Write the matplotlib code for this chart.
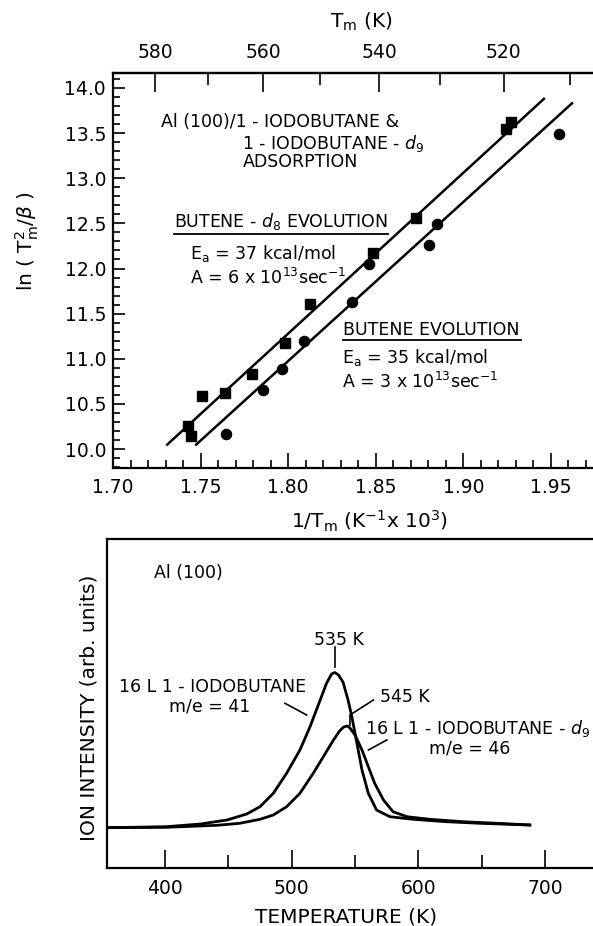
import numpy as np
import matplotlib
matplotlib.use('Agg')
import matplotlib.pyplot as plt
from matplotlib.ticker import MultipleLocator, FixedLocator, FormatStrFormatter

plt.rcParams['font.family'] = ['DejaVu Sans']
plt.rcParams['mathtext.fontset'] = 'dejavusans'
plt.rcParams['font.size'] = 12.5
plt.rcParams['xtick.labelsize'] = 13.5
plt.rcParams['ytick.labelsize'] = 13.5
LABEL_FS = 14.5

# --- Arrhenius plot data (1/Tm in K^-1 x 10^3, ln(Tm^2/beta)) ---
inv_T_d8 = [1.743, 1.7443, 1.751, 1.7638, 1.7794, 1.7983, 1.8125, 1.8485, 1.8727, 1.9243, 1.9271]
ln_d8 = [10.25, 10.14, 10.59, 10.62, 10.83, 11.18, 11.61, 12.17, 12.56, 13.55, 13.62]
inv_T_h = [1.7646, 1.7856, 1.7966, 1.809, 1.8367, 1.8462, 1.8803, 1.885, 1.9545]
ln_h = [10.17, 10.65, 10.89, 11.20, 11.63, 12.05, 12.26, 12.49, 13.49]

# fitted lines (end points)
fit_d8_x = [1.731, 1.946]
fit_d8_y = [10.05, 13.88]
fit_h_x = [1.7475, 1.962]
fit_h_y = [10.05, 13.83]

top_ticks_T = [580, 560, 540, 520]
top_minor_T = [570, 550, 530, 510]

# --- TPD spectra (temperature in K, intensity arb. units) ---
T_41 = [354, 401, 428, 449, 464.5, 475, 485.5, 496, 506.5, 514.5, 522.5, 527.5, 531.5, 534,
        537, 540.5, 544.5, 547.5, 551.5, 555.5, 560.5, 567, 577.5, 596, 622, 648.5, 688]
I_41 = [40.3, 41.3, 44, 48, 54, 61.3, 74.7, 94.7, 118, 141.3, 168, 184.7, 194, 195.5,
        193, 186, 168, 151.3, 124.7, 98, 74.7, 58, 51.3, 48.7, 46.3, 44.7, 43]
T_46 = [354, 401, 441, 459, 475, 485.5, 496, 506.5, 517, 525, 533, 538, 541, 544, 546,
        550, 555.5, 560.5, 565.5, 572.5, 580, 591, 609, 635, 662, 688]
I_46 = [40.3, 40.7, 42.7, 44.7, 48.7, 53, 61.3, 74.7, 94.7, 111.3, 128, 137.3, 141, 142, 140,
        133, 118, 101.3, 84.7, 68, 56.3, 51.3, 48.7, 46.3, 44.7, 43]

W, H = 593, 926
fig = plt.figure(figsize=(W / 100, H / 100), dpi=100)


def box(l, t, r, b):
    return [l / W, 1 - b / H, (r - l) / W, (b - t) / H]


# ================= top panel =================
ax1 = fig.add_axes(box(113, 73, 600, 468))
ax1.plot(fit_d8_x, fit_d8_y, 'k-', lw=1.8)
ax1.plot(fit_h_x, fit_h_y, 'k-', lw=1.8)
ax1.plot(inv_T_d8, ln_d8, 'ks', ms=6.8)
ax1.plot(inv_T_h, ln_h, 'ko', ms=7.3)
ax1.set_xlim(1.70, 1.978)
ax1.set_ylim(9.79, 14.166)
ax1.xaxis.set_major_locator(MultipleLocator(0.05))
ax1.xaxis.set_minor_locator(MultipleLocator(0.01))
ax1.yaxis.set_major_locator(MultipleLocator(0.5))
ax1.yaxis.set_minor_locator(MultipleLocator(0.1))
ax1.xaxis.set_major_formatter(FormatStrFormatter('%.2f'))
ax1.yaxis.set_major_formatter(FormatStrFormatter('%.1f'))
ax1.tick_params(which='both', direction='in', top=False, right=False, width=1.2)
ax1.xaxis.set_tick_params(which='major', length=11, pad=7)
ax1.xaxis.set_tick_params(which='minor', length=6)
ax1.yaxis.set_tick_params(which='major', length=8.5, pad=5)
ax1.yaxis.set_tick_params(which='minor', length=5)
for s in ax1.spines.values():
    s.set_linewidth(1.6)
ax1.spines['right'].set_visible(False)

sec = ax1.secondary_xaxis('top', functions=(lambda x: 1000 / x, lambda t: 1000 / t))
sec.xaxis.set_major_locator(FixedLocator(top_ticks_T))
sec.xaxis.set_minor_locator(FixedLocator(top_minor_T))
sec.xaxis.set_major_formatter(FormatStrFormatter('%d'))
sec.tick_params(which='major', direction='in', length=13.5, width=1.2, pad=8)
sec.tick_params(which='minor', direction='in', length=8.5, width=1.2)
sec.spines['top'].set_linewidth(1.6)

ax1.text(0.509, 1.13, r'T$_\mathrm{m}$ (K)', transform=ax1.transAxes, ha='center',
         va='center', fontsize=LABEL_FS)
ax1.text(0.527, -0.136, r'1/T$_\mathrm{m}$ (K$^{-1}$x 10$^3$)', transform=ax1.transAxes,
         ha='center', va='center', fontsize=LABEL_FS)
ax1.text(-0.175, 0.575, r'ln ( T$_\mathrm{m}^2$/$\beta$ )', transform=ax1.transAxes,
         ha='center', va='center', rotation=90, fontsize=LABEL_FS)

ax1.text(0.0986, 0.8767, 'Al (100)/1 - IODOBUTANE &', transform=ax1.transAxes, va='center')
ax1.text(0.2643, 0.822, r'1 - IODOBUTANE - $d_9$', transform=ax1.transAxes, va='center')
ax1.text(0.2676, 0.7754, 'ADSORPTION', transform=ax1.transAxes, va='center')
ax1.text(0.1253, 0.6235, r'BUTENE - $d_8$ EVOLUTION', transform=ax1.transAxes, va='center')
ax1.plot([0.1253, 0.5647], [0.5924, 0.5924], 'k-', lw=1.3, transform=ax1.transAxes)
ax1.text(0.158, 0.5443, r'E$_\mathrm{a}$ = 37 kcal/mol', transform=ax1.transAxes, va='center')
ax1.text(0.158, 0.481, r'A = 6 x 10$^{13}$sec$^{-1}$', transform=ax1.transAxes, va='center')
ax1.text(0.4729, 0.3494, 'BUTENE EVOLUTION', transform=ax1.transAxes, va='center')
ax1.plot([0.4723, 0.8378], [0.324, 0.324], 'k-', lw=1.3, transform=ax1.transAxes)
ax1.text(0.4696, 0.2785, r'E$_\mathrm{a}$ = 35 kcal/mol', transform=ax1.transAxes, va='center')
ax1.text(0.4696, 0.2185, r'A = 3 x 10$^{13}$sec$^{-1}$', transform=ax1.transAxes, va='center')

# ================= bottom panel =================
ax2 = fig.add_axes(box(107, 539, 600, 868))
ax2.plot(T_41, I_41, 'k-', lw=2)
ax2.plot(T_46, I_46, 'k-', lw=2)
ax2.set_xlim(354.2, 743.4)
ax2.set_ylim(0, 329)
ax2.set_yticks([])
ax2.xaxis.set_major_locator(MultipleLocator(100))
ax2.xaxis.set_minor_locator(MultipleLocator(50))
ax2.tick_params(which='both', direction='in', top=False, width=1.2)
ax2.xaxis.set_tick_params(which='major', length=13, pad=8)
ax2.xaxis.set_tick_params(which='minor', length=9.5)
for s in ax2.spines.values():
    s.set_linewidth(1.6)
ax2.spines['right'].set_visible(False)

ax2.text(0.485, -0.148, 'TEMPERATURE (K)', transform=ax2.transAxes, ha='center', va='center',
         fontsize=LABEL_FS)
ax2.text(-0.0365, 0.486, 'ION INTENSITY (arb. units)', transform=ax2.transAxes,
         ha='center', va='center', rotation=90, fontsize=LABEL_FS)
ax2.text(0.0959, 0.8976, 'Al (100)', transform=ax2.transAxes, va='center')

ax2.text(0.4696, 0.693, '535 K', transform=ax2.transAxes, ha='center', va='center')
ax2.plot([534, 534], [201, 221], 'k-', lw=1.2)
ax2.text(0.214, 0.551, '16 L 1 - IODOBUTANE', transform=ax2.transAxes, ha='center', va='center')
ax2.text(0.209, 0.49, 'm/e = 41', transform=ax2.transAxes, ha='center', va='center')
ax2.plot([494.7, 511.8], [164.7, 153], 'k-', lw=1.2)

ax2.text(0.6038, 0.5207, '545 K', transform=ax2.transAxes, ha='center', va='center')
ax2.plot([564.5, 546, 546], [168, 153, 143], 'k-', lw=1.2)
ax2.text(0.7515, 0.4246, r'16 L 1 - IODOBUTANE - $d_9$', transform=ax2.transAxes,
         ha='center', va='center')
ax2.text(0.7363, 0.3638, 'm/e = 46', transform=ax2.transAxes, ha='center', va='center')
ax2.plot([575.1, 560.6], [128, 118], 'k-', lw=1.2)

fig.savefig('out.png', dpi=100)
